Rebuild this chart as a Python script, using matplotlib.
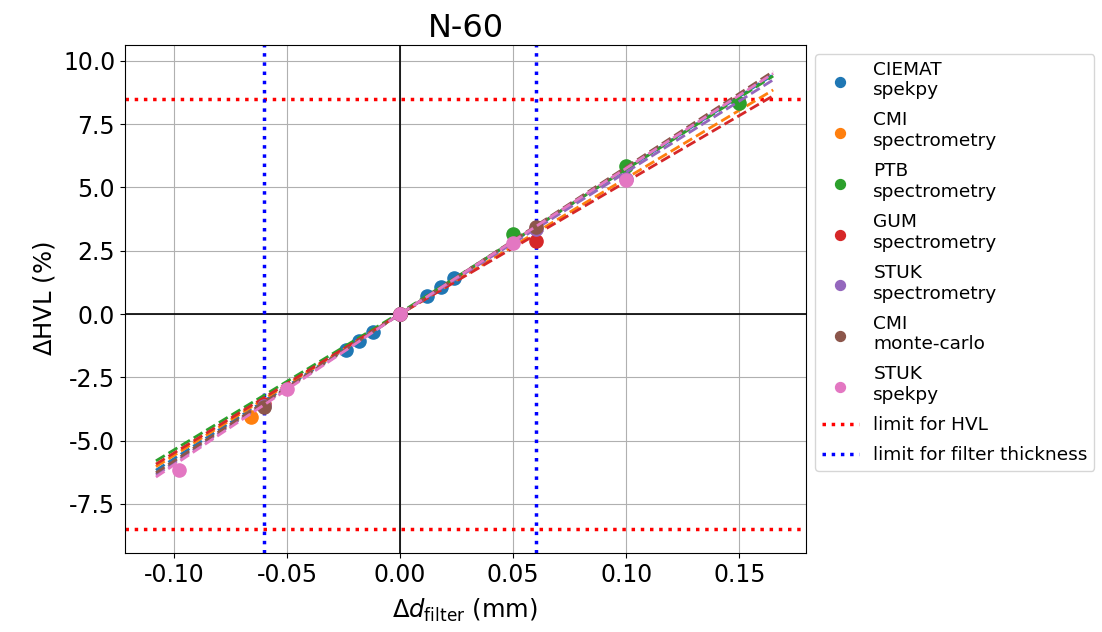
import matplotlib
matplotlib.use('Agg')
import matplotlib.pyplot as plt
import numpy as np

# series names (legend labels)
labels = ['CIEMAT\nspekpy', 'CMI\nspectrometry', 'PTB\nspectrometry', 'GUM\nspectrometry',
          'STUK\nspectrometry', 'CMI\nmonte-carlo', 'STUK\nspekpy']
colors = ['tab:blue', 'tab:orange', 'tab:green', 'tab:red', 'tab:purple', 'tab:brown', 'tab:pink']

# measured points, Δd_filter (mm) and ΔHVL (%)
ciemat_x = [-0.024, -0.018, -0.012, 0.0, 0.012, 0.018, 0.024]
ciemat_y = [-1.42, -1.07, -0.71, 0.0, 0.72, 1.07, 1.42]
cmi_spec_x = [-0.066, 0.0]
cmi_spec_y = [-4.05, 0.0]
ptb_x = [0.0, 0.05, 0.10, 0.15]
ptb_y = [0.0, 3.15, 5.85, 8.35]
gum_x = [-0.06, 0.0, 0.06]
gum_y = [-3.55, 0.0, 2.9]
stuk_spec_x = [-0.06, 0.0, 0.06, 0.10]
stuk_spec_y = [-3.65, 0.0, 3.35, 5.35]
cmi_mc_x = [-0.06, 0.0, 0.06]
cmi_mc_y = [-3.68, 0.0, 3.45]
stuk_spekpy_x = [-0.098, -0.05, 0.0, 0.05, 0.10]
stuk_spekpy_y = [-6.15, -2.97, 0.0, 2.8, 5.3]

# fitted lines, evaluated at the ends of the range
fit_x = [-0.108, 0.0, 0.165]
ciemat_fit = [-6.17, 0.0, 9.45]
cmi_spec_fit = [-6.03, 0.0, 8.85]
ptb_fit = [-5.80, 0.05, 9.4]
gum_fit = [-5.93, 0.0, 8.62]
stuk_spec_fit = [-6.35, 0.0, 9.25]
cmi_mc_fit = [-6.27, 0.0, 9.58]
stuk_spekpy_fit = [-6.44, 0.0, 9.5]

hvl_limit = 8.5
filter_limit = 0.06

points = [(ciemat_x, ciemat_y), (cmi_spec_x, cmi_spec_y), (ptb_x, ptb_y), (gum_x, gum_y),
          (stuk_spec_x, stuk_spec_y), (cmi_mc_x, cmi_mc_y), (stuk_spekpy_x, stuk_spekpy_y)]
fits = [ciemat_fit, cmi_spec_fit, ptb_fit, gum_fit, stuk_spec_fit, cmi_mc_fit, stuk_spekpy_fit]

fig = plt.figure(figsize=(11.02, 6.32), dpi=100)
ax = fig.add_axes([0.1134, 0.125, 0.618, 0.804])

for i in range(len(labels)):
    ax.scatter(points[i][0], points[i][1], s=90, color=colors[i], label=labels[i], zorder=3)
    ax.plot(fit_x, fits[i], '--', color=colors[i], lw=2, zorder=3)

ax.axhline(0, color='k', lw=1.2)
ax.axvline(0, color='k', lw=1.2)
ax.axhline(hvl_limit, color='red', ls=':', lw=2.5, label='limit for HVL')
ax.axhline(-hvl_limit, color='red', ls=':', lw=2.5)
ax.axvline(filter_limit, color='blue', ls=':', lw=2.5, label='limit for filter thickness')
ax.axvline(-filter_limit, color='blue', ls=':', lw=2.5)

ax.set_xlim(-0.1217, 0.1795)
ax.set_ylim(-9.44, 10.63)
ax.set_xticks([-0.10, -0.05, 0.0, 0.05, 0.10, 0.15])
ax.set_yticks([-7.5, -5.0, -2.5, 0.0, 2.5, 5.0, 7.5, 10.0])
ax.xaxis.set_major_formatter(matplotlib.ticker.FormatStrFormatter('%.2f'))
ax.yaxis.set_major_formatter(matplotlib.ticker.FormatStrFormatter('%.1f'))
ax.tick_params(labelsize=17)
ax.grid(True)

ax.set_xlabel(r'$\Delta d_{\mathrm{filter}}$ (mm)', fontsize=17.5, labelpad=7)
ax.set_ylabel(r'$\Delta$HVL (%)', fontsize=17.5)
ax.set_title('N-60', fontsize=23)

ax.legend(loc='upper left', bbox_to_anchor=(1, 1), fontsize=13.3, markerscale=0.75,
          labelspacing=0.65, borderpad=0.35)

fig.savefig('out.png', dpi=100)
